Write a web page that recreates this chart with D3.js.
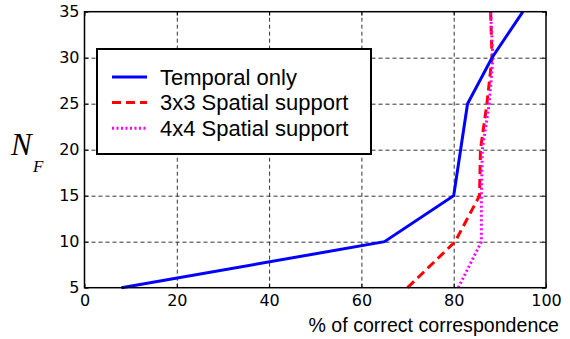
<!DOCTYPE html>
<html>
<head>
    <title>NF vs correct correspondence</title>
    <script src="https://cdn.jsdelivr.net/npm/d3@7"></script>
    <style>
        body { margin: 0; background: #fff; }
        .tick text { font-family: "DejaVu Sans", sans-serif; font-size: 16px; fill: #000; }
        .grid line { stroke: #333; stroke-dasharray: 4,3; }
        .grid path { display: none; }
    </style>
</head>
<body>
<script>
    // frame counts (y) and accuracy for each method (x, %)
    var nf = [5, 10, 15, 20, 25, 30, 35],
        temporal = [8, 65, 80, 81.5, 83, 88.3, 95],
        spatial3 = [70, 80.3, 85.6, 85.8, 87.2, 88.3, 88],
        spatial4 = [81, 86, 86, 86.2, 87.7, 88.5, 88];

    var xTicks = [0, 20, 40, 60, 80, 100],
        yTicks = [5, 10, 15, 20, 25, 30, 35];

    var seriesNames = ["Temporal only", "3x3 Spatial support", "4x4 Spatial support"];

    var width = 570, height = 339;
    var plotL = 84.5, plotR = 546, plotT = 11.7, plotB = 287.7;

    var svg = d3.select("body").append("svg")
        .attr("width", width)
        .attr("height", height);

    var x = d3.scaleLinear().domain([0, 100]).range([plotL, plotR]);
    var y = d3.scaleLinear().domain([5, 35]).range([plotB, plotT]);

    // dashed grid
    svg.append("g").attr("class", "grid")
        .attr("transform", "translate(0," + plotB + ")")
        .call(d3.axisBottom(x).tickValues(xTicks.slice(1, -1)).tickSize(-(plotB - plotT)).tickFormat(""));
    svg.append("g").attr("class", "grid")
        .attr("transform", "translate(" + plotL + ",0)")
        .call(d3.axisLeft(y).tickValues(yTicks.slice(1, -1)).tickSize(-(plotR - plotL)).tickFormat(""));

    // the lines
    var line = d3.line()
        .x(function (d) { return x(d[0]); })
        .y(function (d) { return y(d[1]); });

    var series = [
        { name: seriesNames[1], vals: spatial3, color: "#ff0000", dash: "9,5", w: 3 },
        { name: seriesNames[2], vals: spatial4, color: "#ff00ff", dash: "2,2.5", w: 3 },
        { name: seriesNames[0], vals: temporal, color: "#0000ff", dash: null, w: 3 }
    ];

    series.forEach(function (s) {
        svg.append("path")
            .datum(d3.zip(s.vals, nf))
            .attr("fill", "none")
            .attr("stroke", s.color)
            .attr("stroke-width", s.w)
            .attr("stroke-dasharray", s.dash)
            .attr("d", line);
    });

    // axes with inward ticks
    svg.append("g")
        .attr("transform", "translate(0," + plotB + ")")
        .call(d3.axisBottom(x).tickValues(xTicks).tickSize(-4).tickPadding(7))
        .call(function (g) { g.select(".domain").remove(); });
    svg.append("g")
        .attr("transform", "translate(" + plotL + ",0)")
        .call(d3.axisLeft(y).tickValues(yTicks).tickSize(-4).tickPadding(5))
        .call(function (g) { g.select(".domain").remove(); });
    svg.append("g")
        .attr("transform", "translate(0," + plotT + ")")
        .call(d3.axisTop(x).tickValues(xTicks).tickSize(-4).tickFormat(""))
        .call(function (g) { g.select(".domain").remove(); });
    svg.append("g")
        .attr("transform", "translate(" + plotR + ",0)")
        .call(d3.axisRight(y).tickValues(yTicks).tickSize(-4).tickFormat(""))
        .call(function (g) { g.select(".domain").remove(); });

    svg.append("rect")
        .attr("x", plotL).attr("y", plotT)
        .attr("width", plotR - plotL).attr("height", plotB - plotT)
        .attr("fill", "none").attr("stroke", "#000").attr("stroke-width", 1.5);

    // axis labels
    svg.append("text")
        .attr("x", 559).attr("y", 331.5)
        .attr("text-anchor", "end")
        .style("font-family", "'Liberation Sans', Arial, sans-serif")
        .style("font-size", "19.6px")
        .text("% of correct correspondence");

    var nfLabel = svg.append("text")
        .attr("x", 11).attr("y", 155)
        .style("font-family", "'Liberation Serif', 'Times New Roman', serif")
        .style("font-style", "italic")
        .style("font-size", "31px");
    nfLabel.append("tspan").text("N");
    nfLabel.append("tspan").attr("x", 33).attr("y", 171.5).style("font-size", "17px").text("F");

    // legend
    var lg = svg.append("g");
    lg.append("rect")
        .attr("x", 97).attr("y", 49)
        .attr("width", 274).attr("height", 105)
        .attr("fill", "#fff").attr("stroke", "#000").attr("stroke-width", 2);

    var legendItems = [series[2], series[0], series[1]];
    legendItems.forEach(function (s, i) {
        var ly = 77 + i * 25.6;
        lg.append("line")
            .attr("x1", 112).attr("x2", 147)
            .attr("y1", ly).attr("y2", ly)
            .attr("stroke", s.color).attr("stroke-width", s.w)
            .attr("stroke-dasharray", s.dash);
        lg.append("text")
            .attr("x", 160).attr("y", ly + 7.5)
            .style("font-family", "'Liberation Sans', Arial, sans-serif")
            .style("font-size", "22px")
            .text(s.name);
    });
</script>
</body>
</html>
